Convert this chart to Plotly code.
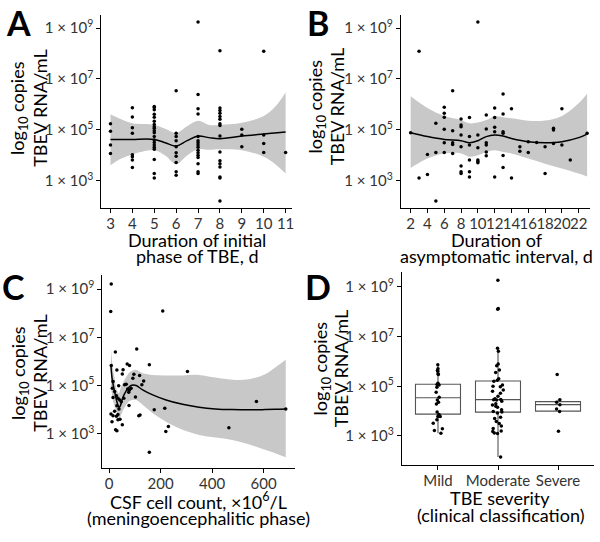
import numpy as np
import plotly.graph_objects as go

FONT = "Lato"

# ---------------- Panel A: duration of initial phase (days) vs log10 copies
a_days = [3]*4 + [4]*8 + [5]*20 + [6]*10 + [7]*16 + [8]*16 + [9]*3 + [10]*4 + [11]*1
a_log = [5.24, 4.95, 4.41, 4.08,
         5.87, 5.51, 5.09, 4.87, 4.03, 3.95, 3.82, 3.53,
         5.92, 5.88, 5.79, 5.62, 5.50, 5.34, 5.22, 5.13, 5.07, 4.97, 4.89, 4.74, 4.61, 4.51, 4.41, 4.32, 4.24, 3.84, 3.29, 3.12,
         6.54, 4.87, 4.74, 4.58, 4.34, 4.11, 3.97, 3.72, 3.36, 3.22,
         9.24, 6.39, 5.83, 5.63, 4.74, 4.58, 4.50, 4.41, 4.32, 4.21, 4.11, 4.01, 3.92, 3.68, 3.36, 3.29,
         8.11, 5.86, 5.76, 5.66, 5.53, 5.42, 5.24, 5.18, 4.76, 4.14, 3.79, 3.68, 3.55, 3.16, 3.12, 2.21,
         5.03, 4.80, 4.34,
         8.09, 4.80, 4.47, 4.12,
         4.12]
a_fit_x = [3, 3.5, 4, 5, 5.5, 6, 6.5, 7, 7.5, 8, 9, 10, 10.5, 11]
a_fit = [4.63, 4.63, 4.63, 4.63, 4.50, 4.37, 4.58, 4.76, 4.70, 4.66, 4.76, 4.84, 4.88, 4.92]
a_hi = [5.62, 5.42, 5.26, 5.20, 5.05, 4.89, 5.15, 5.36, 5.20, 5.20, 5.28, 5.55, 5.89, 6.47]
a_lo = [3.62, 3.88, 4.04, 4.21, 4.00, 3.66, 4.00, 4.24, 4.22, 4.24, 4.21, 3.95, 3.68, 3.29]

# ---------------- Panel B: duration of asymptomatic interval (days)
b_days = [2, 3, 3, 4, 4, 5, 5, 5,
          6, 6, 6, 6, 6, 6,
          7, 7, 7, 7, 7,
          8, 8, 8, 8, 8, 8, 8, 8,
          9, 9, 9, 9, 9, 9,
          10, 10, 10, 10, 10, 10,
          11, 11, 11, 11, 11, 11,
          12, 12, 12, 12, 12,
          13, 13, 13, 13, 13, 13,
          14, 14, 15, 15, 16, 16, 17, 18, 18, 19, 19, 19, 20, 20, 21, 23]
b_log = [4.89, 8.09, 3.12, 4.04, 3.25, 5.26, 4.12, 2.21,
         5.89, 5.66, 5.50, 5.03, 4.50, 4.12,
         6.54, 4.97, 4.50, 4.43, 4.08,
         5.43, 5.20, 5.13, 4.80, 4.34, 3.59, 3.36, 3.29,
         5.49, 4.74, 4.41, 3.82, 3.36, 3.16,
         9.24, 4.80, 4.30, 3.82, 3.76, 3.71,
         5.59, 5.04, 4.50, 4.41, 4.14, 3.99,
         5.86, 5.49, 5.11, 4.93, 3.16,
         6.41, 5.63, 4.93, 4.87, 4.00, 3.53,
         5.83, 3.12, 4.34, 4.17, 4.54, 4.12, 4.51, 4.34, 3.29, 5.07, 5.00, 4.47, 5.83, 4.41, 3.82, 4.87]
b_fit_x = [2, 4, 6, 8, 9, 10, 11, 12, 13, 14, 16, 18, 20, 22, 23]
b_fit = [4.89, 4.74, 4.63, 4.58, 4.50, 4.58, 4.74, 4.80, 4.76, 4.67, 4.54, 4.50, 4.54, 4.70, 4.84]
b_hi = [6.32, 5.86, 5.55, 5.39, 5.26, 5.29, 5.39, 5.53, 5.50, 5.46, 5.36, 5.37, 5.55, 6.05, 6.42]
b_lo = [3.51, 3.88, 4.08, 4.08, 3.95, 4.01, 4.14, 4.21, 4.14, 4.08, 3.88, 3.68, 3.49, 3.29, 3.18]

# ---------------- Panel C: CSF cell count (x10^6/L)
c_cells = [8, 6, 208, 24, 107, 8, 70, 79, 156, 304, 30, 54, 51, 96, 118, 134, 92, 127,
           15, 37, 60, 66, 72, 79, 85, 76, 12, 15, 21, 28, 34, 41, 47, 57, 102, 77,
           30, 38, 21, 34, 7, 15, 11, 28, 34, 42, 51, 25, 30, 120, 115, 175, 216, 230,
           220, 156, 465, 572, 686]
c_log = [9.22, 8.07, 8.10, 6.39, 6.52, 5.83, 5.89, 5.83, 5.86, 5.58, 5.64, 5.66, 5.48, 5.47, 5.42, 5.19, 5.30, 5.03,
         5.17, 4.99, 5.03, 5.05, 4.86, 4.81, 4.89, 4.72, 4.89, 4.50, 4.75, 4.58, 4.47, 4.40, 4.33, 4.47, 4.52, 4.17,
         4.16, 4.02, 3.93, 3.80, 3.82, 3.75, 3.50, 3.72, 3.58, 3.60, 3.37, 3.16, 3.12, 3.78, 3.75, 3.99, 4.06, 3.30,
         3.09, 2.23, 3.25, 4.34, 4.03]
c_fit_x = [7, 12, 21, 30, 38, 43, 53, 66, 79, 92, 105, 130, 169, 221, 285, 349, 413, 478, 542, 606, 645, 686]
c_fit = [5.78, 5.24, 4.75, 4.33, 4.10, 4.15, 4.50, 4.78, 4.96, 5.02, 5.00, 4.82, 4.61, 4.40, 4.22, 4.10, 4.03, 4.00, 3.99, 4.00, 4.01, 4.03]
c_hi = [6.54, 5.93, 5.30, 4.80, 4.68, 4.85, 5.10, 5.35, 5.55, 5.62, 5.65, 5.51, 5.44, 5.42, 5.42, 5.44, 5.33, 5.24, 5.26, 5.47, 5.75, 6.07]
c_lo = [5.03, 4.54, 4.13, 3.85, 3.64, 3.70, 3.95, 4.20, 4.36, 4.40, 4.40, 4.20, 3.85, 3.50, 3.16, 2.95, 2.84, 2.74, 2.56, 2.33, 2.19, 2.02]

# ---------------- Panel D: TBE severity
d_groups = ["Mild", "Moderate", "Severe"]
d_q1 = [3.88, 3.96, 4.00]
d_median = [4.54, 4.46, 4.26]
d_q3 = [5.08, 5.21, 4.38]
d_low = [3.11, 2.15, 3.98]
d_high = [5.87, 6.53, 4.46]
d_mild = [5.87, 5.70, 5.63, 5.60, 5.50, 5.47, 5.12, 5.09, 5.07, 5.07, 5.05, 4.96, 4.76,
          4.56, 4.45, 4.36, 4.29, 3.96, 3.86, 3.78, 3.78, 3.65, 3.51, 3.29, 3.22, 3.11]
d_moderate = [9.27, 8.13, 8.10, 6.53, 6.41, 5.90, 5.83, 5.65, 5.55, 5.30, 5.24, 5.20, 5.05, 5.00, 4.98,
              4.85, 4.80, 4.72, 4.60, 4.50, 4.47, 4.46, 4.45, 4.40, 4.30, 4.25, 4.20, 4.15, 4.05, 3.98,
              3.96, 3.92, 3.75, 3.70, 3.58, 3.50, 3.40, 3.30, 3.20, 3.18, 3.12, 3.10, 2.15]
d_severe = [5.47, 4.46, 4.36, 4.26, 4.08, 3.98, 3.19]

Y_TICKS = [1e3, 1e5, 1e7, 1e9]
Y_TICKTEXT = ["1 × 10<sup>3</sup>", "1 × 10<sup>5</sup>", "1 × 10<sup>7</sup>", "1 × 10<sup>9</sup>"]


def lin(v):
    return list(10 ** np.array(v, dtype=float))


RIBBON = "rgb(200,200,200)"
fig = go.Figure()


def add_smooth(xs, fit, lo, hi, xa, ya):
    fig.add_trace(go.Scatter(x=xs, y=lin(lo), mode="lines", line=dict(width=0, shape="spline"),
                             xaxis=xa, yaxis=ya, showlegend=False, hoverinfo="skip"))
    fig.add_trace(go.Scatter(x=xs, y=lin(hi), mode="lines", line=dict(width=0, shape="spline"),
                             fill="tonexty", fillcolor=RIBBON,
                             xaxis=xa, yaxis=ya, showlegend=False, hoverinfo="skip"))
    fig.add_trace(go.Scatter(x=xs, y=lin(fit), mode="lines", line=dict(width=1.5, color="black", shape="spline"),
                             xaxis=xa, yaxis=ya, showlegend=False))


def add_points(xs, ys, xa, ya):
    fig.add_trace(go.Scatter(x=xs, y=lin(ys), mode="markers",
                             marker=dict(size=3.5, color="black"),
                             xaxis=xa, yaxis=ya, showlegend=False))


add_smooth(a_fit_x, a_fit, a_lo, a_hi, "x", "y")
add_points(a_days, a_log, "x", "y")
add_smooth(b_fit_x, b_fit, b_lo, b_hi, "x2", "y2")
add_points(b_days, b_log, "x2", "y2")
add_smooth(c_fit_x, c_fit, c_lo, c_hi, "x3", "y3")
add_points(c_cells, c_log, "x3", "y3")

# boxes (precomputed stats)
fig.add_trace(go.Box(x=d_groups, q1=lin(d_q1), median=lin(d_median), q3=lin(d_q3),
                     lowerfence=lin(d_low), upperfence=lin(d_high),
                     boxpoints=False, fillcolor="white", line=dict(color="#555555", width=1.1),
                     whiskerwidth=0, width=0.75, xaxis="x4", yaxis="y4", showlegend=False))
# jittered points
pts_x = ["Mild"] * len(d_mild) + ["Moderate"] * len(d_moderate) + ["Severe"] * len(d_severe)
pts_y = d_mild + d_moderate + d_severe
fig.add_trace(go.Box(x=pts_x, y=lin(pts_y), boxpoints="all", jitter=0.25, pointpos=0,
                     fillcolor="rgba(0,0,0,0)", line=dict(color="rgba(0,0,0,0)", width=0),
                     marker=dict(size=3.5, color="black"), whiskerwidth=0, width=0.75,
                     xaxis="x4", yaxis="y4", showlegend=False))

W, H = 600, 542


def xd(a, b):
    return [a / W, b / W]


def yd(top, bottom):
    return [1 - bottom / H, 1 - top / H]


axis_common = dict(showline=True, linecolor="black", linewidth=1.3, ticks="outside", ticklen=4,
                   tickwidth=1.2, tickcolor="black", showgrid=False, zeroline=False, tickangle=0,
                   tickfont=dict(family=FONT, size=15, color="#333333"))


def yaxis(dom, rng, anchor):
    d = dict(axis_common)
    d.update(type="log", domain=dom, range=rng, tickvals=Y_TICKS, ticktext=Y_TICKTEXT, anchor=anchor)
    return d


def xaxis(dom, anchor, **kw):
    d = dict(axis_common)
    d.update(domain=dom, anchor=anchor, ticklabelstandoff=-2, **kw)
    return d


fig.update_layout(
    width=W, height=H, margin=dict(l=0, r=0, t=0, b=0),
    paper_bgcolor="white", plot_bgcolor="white", showlegend=False, boxmode="overlay",
    font=dict(family=FONT, color="black"),
    xaxis=xaxis(xd(102, 293), "y", range=[2.59, 11.27], tickvals=list(range(3, 12))),
    yaxis=yaxis(yd(15, 208), [1.94, 9.51], "x"),
    xaxis2=xaxis(xd(403, 593), "y2", range=[0.85, 23.35], tickvals=list(range(2, 23, 2))),
    yaxis2=yaxis(yd(15, 208), [1.94, 9.51], "x2"),
    xaxis3=xaxis(xd(103, 296), "y3", range=[-26, 720], tickvals=[0, 200, 400, 600]),
    yaxis3=yaxis(yd(275, 468), [1.575, 9.59], "x3"),
    xaxis4=xaxis(xd(404, 597), "y4", type="category", categoryorder="array",
                 categoryarray=d_groups, range=[-0.6, 2.6]),
    yaxis4=yaxis(yd(272, 465), [1.83, 9.60], "x4"),
)

ann = []


def text(x, y, s, size=18, angle=0, bold=False):
    ann.append(dict(x=x / W, y=1 - y / H, xref="paper", yref="paper", text=(f"<b>{s}</b>" if bold else s),
                    showarrow=False, textangle=angle, xanchor="center", yanchor="middle",
                    font=dict(family=FONT, size=size, color="black")))


# panel letters
text(19, 22, "A", size=34, bold=True)
text(320, 22, "B", size=34, bold=True)
text(14, 286, "C", size=34, bold=True)
text(320, 286, "D", size=34, bold=True)

# y titles
for (x1, x2, yc) in [(19, 40, 108), (318, 339, 106), (19, 40, 373), (323, 343, 368)]:
    text(x1, yc, "log<sub>10</sub> copies", angle=-90)
    text(x2, yc, "TBEV RNA/mL", angle=-90)

# x titles
text(197.5, 240, "Duration of initial")
text(197.5, 256, "phase of TBE, d")
text(499, 240, "Duration of")
text(499, 256, "asymptomatic interval, d")
text(199, 501, "CSF cell count, ×10<sup>6</sup>/L")
text(199, 518, "(meningoencephalitic phase)")
text(503, 498, "TBE severity")
text(503, 515, "(clinical classification)")

fig.update_layout(annotations=ann)
fig.write_html("out.html", config={"displayModeBar": False},
               post_script="document.body.style.margin='0px';document.body.style.padding='0px';")
